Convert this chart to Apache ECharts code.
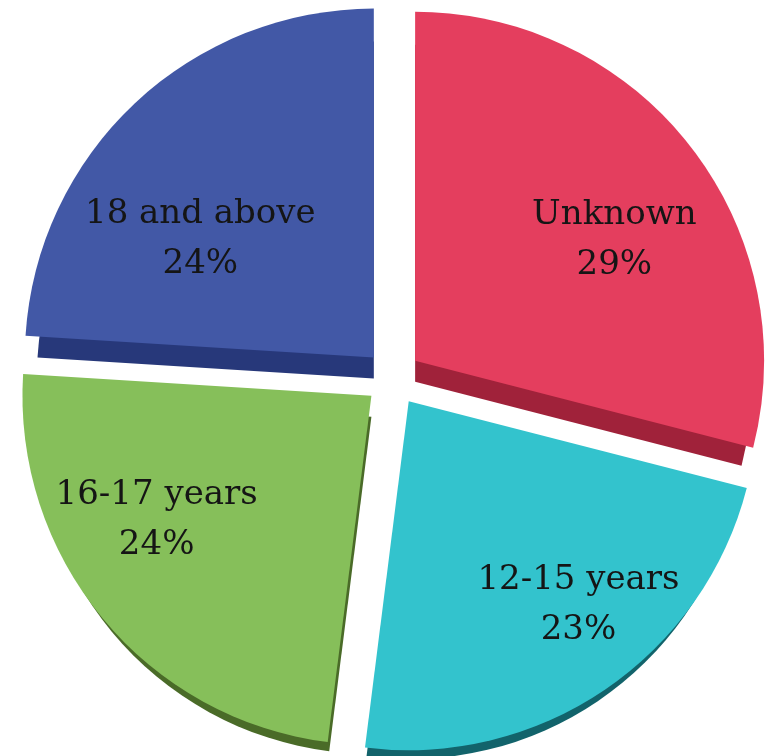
<!DOCTYPE html>
<html>
<head>
<meta charset="utf-8">
<script src="https://cdn.jsdelivr.net/npm/echarts@6/dist/echarts.min.js"></script>
<style>
  html, body { margin: 0; padding: 0; background: #ffffff; }
  #chart { width: 765px; height: 756px; }
</style>
</head>
<body>
<div id="chart"></div>
<script>
// Data
const categories = ['Unknown', '12-15 years', '16-17 years', '18 and above'];
const shares = [29, 23, 24, 24];

// Styles (kept separate from data)
const topColors = ['#E43E5E', '#33C3CD', '#86BF5A', '#4258A6'];
const sideColors = ['#A0223A', '#12636B', '#4A6B28', '#27387A'];
const labelNudge = [[59, -12], [70, 57], [-78, 11], [-52, 11]];

const CX = 393, CY = 378, R = 349, EXPLODE = 28;
const DEPTH = 21, SHRINK = 12;

const chart = echarts.init(document.getElementById('chart'), null, { renderer: 'canvas' });

function items(colors) {
  return categories.map((name, i) => ({
    name: name,
    value: shares[i],
    selected: true,
    itemStyle: { color: colors[i] }
  }));
}

chart.setOption({
  backgroundColor: '#ffffff',
  animation: false,
  series: [
    {
      type: 'pie',
      z: 1,
      silent: true,
      center: [CX, CY + DEPTH],
      radius: [0, R - SHRINK],
      startAngle: 90,
      clockwise: true,
      selectedMode: 'multiple',
      selectedOffset: EXPLODE,
      avoidLabelOverlap: false,
      label: { show: false },
      labelLine: { show: false },
      itemStyle: { borderWidth: 0 },
      emphasis: { disabled: true },
      data: items(sideColors)
    },
    {
      type: 'pie',
      z: 2,
      silent: true,
      center: [CX, CY],
      radius: [0, R],
      startAngle: 90,
      clockwise: true,
      selectedMode: 'multiple',
      selectedOffset: EXPLODE,
      avoidLabelOverlap: false,
      itemStyle: { borderWidth: 0 },
      emphasis: { disabled: true },
      labelLine: { show: false },
      label: {
        show: true,
        position: 'inside',
        formatter: '{b}\n{d}%',
        fontFamily: 'DejaVu Serif',
        fontSize: 34,
        lineHeight: 50,
        color: '#151515',
        align: 'center',
        verticalAlign: 'middle'
      },
      labelLayout: function (params) {
        const n = labelNudge[params.dataIndex] || [0, 0];
        return { dx: n[0], dy: n[1] };
      },
      data: items(topColors)
    }
  ]
});
</script>
</body>
</html>
